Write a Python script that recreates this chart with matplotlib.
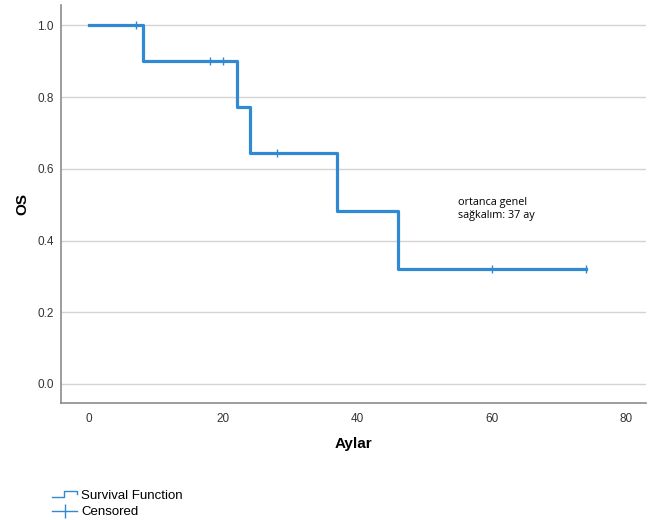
import matplotlib
matplotlib.use("Agg")
import matplotlib.pyplot as plt
from matplotlib.lines import Line2D
from matplotlib.legend_handler import HandlerBase

# Kaplan-Meier data
event_times = [0, 8, 22, 24, 37, 46]
survival = [1.0, 0.9, 0.771, 0.643, 0.482, 0.321]
last_time = 74
censor_times = [7, 18, 20, 28, 60, 74]
censor_surv = [1.0, 0.9, 0.9, 0.643, 0.321, 0.321]

x_ticks = [0, 20, 40, 60, 80]
y_ticks = [0.0, 0.2, 0.4, 0.6, 0.8, 1.0]

blue = "#3189d2"
plt.rcParams["font.family"] = ["Liberation Sans", "DejaVu Sans"]


class StepHandler(HandlerBase):
    """legend icon: small step line"""
    def create_artists(self, legend, orig_handle, xdescent, ydescent,
                       width, height, fontsize, trans):
        xs = [0, width * 0.45, width * 0.45, width, width]
        ys = [height * 0.2, height * 0.2, height * 0.85, height * 0.85, height * 0.6]
        ln = Line2D(xs, ys, color=blue, lw=1.0, transform=trans)
        return [ln]


fig = plt.figure(figsize=(6.53, 5.2), dpi=100)
ax = fig.add_axes([0.0934, 0.225, 0.896, 0.765])

xs = event_times + [last_time]
ys = survival + [survival[-1]]
ax.step(xs, ys, where="post", color=blue, lw=2.3, zorder=3)
ax.plot(censor_times, censor_surv, ls="none", marker="|", ms=6,
        mew=1.0, color=blue, zorder=4)

ax.set_xlim(-4.2, 83)
ax.set_ylim(-0.053, 1.056)
ax.set_xticks(x_ticks)
ax.set_yticks(y_ticks)
ax.set_yticklabels([f"{v:.1f}" for v in y_ticks])
ax.tick_params(length=0, labelsize=8.5, colors="#333333")
ax.tick_params(axis="y", pad=5)
ax.tick_params(axis="x", pad=7)
ax.yaxis.grid(True, color="#d4d4d4", lw=1.0)
ax.set_axisbelow(True)
for s in ["top", "right"]:
    ax.spines[s].set_visible(False)
for s in ["left", "bottom"]:
    ax.spines[s].set_color("#8c8c8c")
    ax.spines[s].set_linewidth(1.2)

ax.set_xlabel("Aylar", fontsize=11, fontweight="bold", labelpad=9)
ax.set_ylabel("OS", fontsize=11, fontweight="bold", labelpad=6)

ax.text(55, 0.488, "ortanca genel\nsağkalım: 37 ay", fontsize=7.8,
        family=["Open Sans", "DejaVu Sans"], linespacing=1.3, va="center")

h1 = Line2D([], [], color=blue)
h2 = Line2D([], [], color=blue, lw=1.0, marker="|", ms=10, mew=1.0)
fig.legend([h1, h2], ["Survival Function", "Censored"],
           handler_map={h1: StepHandler()},
           loc="upper left", bbox_to_anchor=(0.072, 0.068),
           bbox_transform=fig.transFigure, frameon=False, fontsize=9.5,
           handlelength=1.9, handletextpad=0.3, labelspacing=0.3,
           borderaxespad=0)

fig.savefig("out.png", dpi=100)
